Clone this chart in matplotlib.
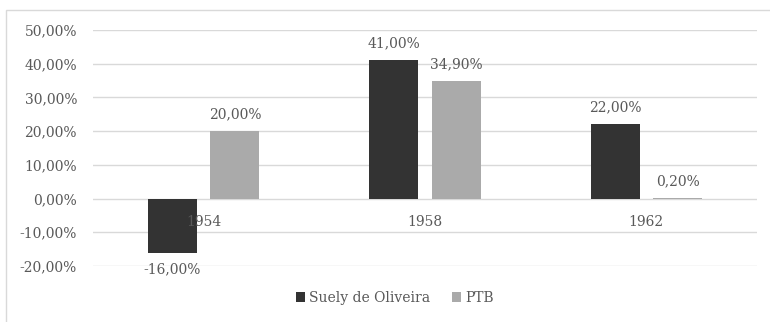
import matplotlib
matplotlib.use("Agg")
import matplotlib.pyplot as plt
from matplotlib.patches import Rectangle
import numpy as np

years = ["1954", "1958", "1962"]
series_names = ["Suely de Oliveira", "PTB"]
suely = [-16.0, 41.0, 22.0]
ptb = [20.0, 34.9, 0.2]
y_ticks = [-20, -10, 0, 10, 20, 30, 40, 50]

DARK = "#333333"
GRAY = "#aaaaaa"
TEXT = "#595959"
GRID = "#d9d9d9"
FS = 10

plt.rcParams["font.family"] = ["DejaVu Serif"]
plt.rcParams["font.size"] = FS


def pct(v):
    return f"{v:.2f}".replace(".", ",") + "%"


fig = plt.figure(figsize=(7.7, 3.22), dpi=100)
ax = fig.add_axes([93 / 770, 56 / 322, 664 / 770, 236 / 322])

# chart-area frame
fig.patches.append(Rectangle((6 / 770, -0.1), 1.2, 1 - 10 / 322 + 0.1,
                             transform=fig.transFigure, fill=False,
                             edgecolor=GRID, linewidth=1.0))

x = np.arange(len(years))
w = 0.221
off = 0.1413
b1 = ax.bar(x - off, suely, w, color=DARK, label=series_names[0], zorder=3)
b2 = ax.bar(x + off, ptb, w, color=GRAY, label=series_names[1], zorder=3)

ax.bar_label(b1, labels=[pct(v) for v in suely], padding=7, color=TEXT, fontsize=FS)
ax.bar_label(b2, labels=[pct(v) for v in ptb], padding=7, color=TEXT, fontsize=FS)

ax.set_ylim(-20, 50)
ax.set_xlim(-0.5, 2.5)
ax.set_yticks(y_ticks)
ax.set_yticklabels([pct(v) for v in y_ticks])
ax.grid(axis="y", color=GRID, linewidth=1.0, zorder=0)
ax.set_axisbelow(True)

ax.set_xticks(x)
ax.set_xticklabels(years)
ax.spines["bottom"].set_position(("data", 0))
for s in ax.spines.values():
    s.set_visible(False)
ax.tick_params(axis="y", length=0, pad=11.5, colors=TEXT, labelsize=FS)
ax.tick_params(axis="x", length=0, pad=12, colors=TEXT, labelsize=FS)
# category labels sit on top of the bars
ax.xaxis.set_zorder(4)

fig.legend(handles=[b1, b2], labels=series_names, loc="center",
           bbox_to_anchor=(395 / 770, 1 - 298 / 322), ncol=2, frameon=False,
           handlelength=0.65, handleheight=0.65, handletextpad=0.3,
           columnspacing=1.6, labelcolor=TEXT, fontsize=FS)

fig.savefig("out.png", dpi=100)
